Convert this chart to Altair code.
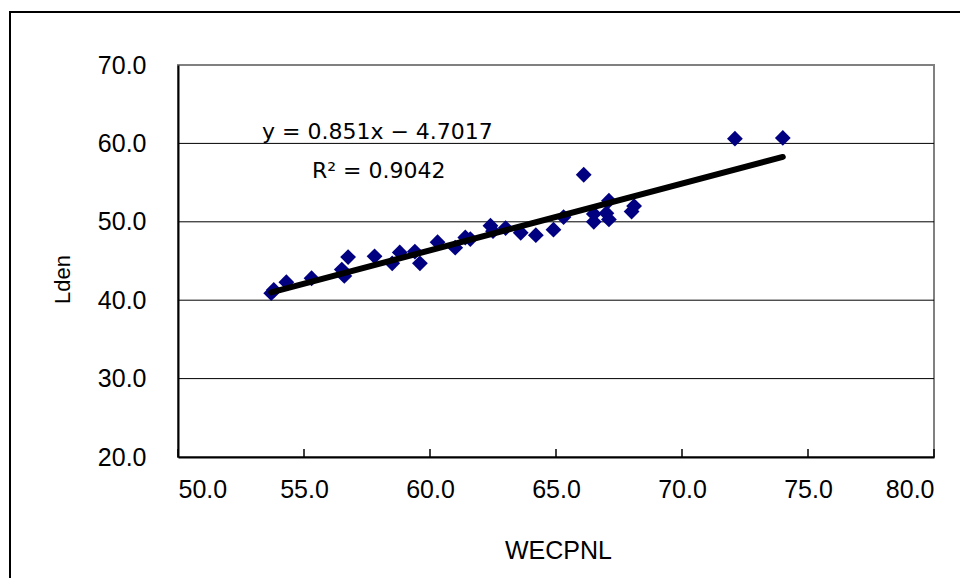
import altair as alt
import pandas as pd

# Data
wecpnl = [53.7, 53.8, 54.3, 55.3, 56.5, 56.6, 56.75, 57.8, 58.5, 58.8, 59.4, 59.6,
          60.3, 61.0, 61.4, 61.6, 62.4, 62.5, 63.0, 63.6, 64.2, 64.9, 65.3, 66.1,
          66.5, 66.5, 67.0, 67.1, 67.1, 68.0, 68.1, 72.1, 74.0]
lden = [40.9, 41.3, 42.3, 42.8, 43.9, 43.1, 45.5, 45.6, 44.7, 46.1, 46.2, 44.7,
        47.4, 46.7, 48.0, 47.8, 49.5, 48.8, 49.2, 48.6, 48.3, 49.0, 50.6, 56.0,
        50.0, 51.0, 51.1, 50.3, 52.7, 51.3, 52.0, 60.6, 60.7]

slope = 0.851
intercept = -4.7017
eq_text = "y = 0.851x − 4.7017"
r2_text = "R² = 0.9042"

y_ticks = [20, 30, 40, 50, 60, 70]
grid_vals = [30, 40, 50, 60]
x_ticks = [50, 55, 60, 65, 70, 75, 80]

pts = pd.DataFrame({"WECPNL": wecpnl, "Lden": lden})
xmin, xmax = min(wecpnl), max(wecpnl)
trend = pd.DataFrame({"WECPNL": [xmin, xmax],
                      "Lden": [slope * xmin + intercept, slope * xmax + intercept]})

W, H = 756, 392
xs = alt.Scale(domain=[50, 80], nice=False, zero=False)
ys = alt.Scale(domain=[20, 70], nice=False, zero=False)

frame = alt.Chart(alt.Data(values=[{}])).mark_rect(
    filled=False, stroke="black", strokeWidth=2
).encode(x=alt.value(-168), x2=alt.value(W + 60), y=alt.value(-53), y2=alt.value(H + 200))

grid = alt.Chart(pd.DataFrame({"v": grid_vals})).mark_rule(color="black", strokeWidth=1).encode(
    y=alt.Y("v:Q", scale=ys)
)

xtick = alt.Chart(pd.DataFrame({"t": x_ticks})).mark_rule(color="black", strokeWidth=1.5).encode(
    x=alt.X("t:Q", scale=xs), y=alt.value(H), y2=alt.value(H - 8)
)

points = alt.Chart(pts).mark_point(
    shape="diamond", filled=True, color="#000080", size=250, opacity=1
).encode(
    x=alt.X("WECPNL:Q", scale=xs,
            axis=alt.Axis(values=x_ticks, format=".1f", title="WECPNL", grid=False, ticks=False,
                          labelPadding=20, titleY=81, titleX=W / 2 + 2, titleBaseline="top",
                          titleFontSize=25)),
    y=alt.Y("Lden:Q", scale=ys,
            axis=alt.Axis(values=y_ticks, format=".1f", title="Lden", grid=False, ticks=False,
                          labelPadding=32, titleX=-116, titleY=214, titleBaseline="middle",
                          titleAlign="center", titleFontSize=22)),
)

line = alt.Chart(trend).mark_line(color="black", strokeWidth=6, strokeCap="round").encode(
    x=alt.X("WECPNL:Q", scale=xs), y=alt.Y("Lden:Q", scale=ys)
)

eq = alt.Chart(alt.Data(values=[{}])).mark_text(
    text=eq_text, font="DejaVu Sans", fontSize=22, align="left", baseline="alphabetic", color="black"
).encode(x=alt.value(84), y=alt.value(74))

r2 = alt.Chart(alt.Data(values=[{}])).mark_text(
    text=r2_text, font="DejaVu Sans", fontSize=22, align="left", baseline="alphabetic", color="black"
).encode(x=alt.value(134), y=alt.value(113))

chart = alt.layer(frame, grid, xtick, points, line, eq, r2).properties(
    width=W, height=H,
    autosize=alt.AutoSizeParams(type="none"),
    padding={"left": 170, "top": 57, "right": 26, "bottom": 121},
).configure_view(
    stroke="#808080", strokeWidth=2
).configure_axis(
    domainColor="black", domainWidth=2,
    labelFont="Liberation Sans", labelFontSize=25, labelColor="black",
    titleFont="Liberation Sans", titleFontWeight="normal", titleColor="black",
)

chart.save("out.html", embed_options={"renderer": "svg", "actions": False})
